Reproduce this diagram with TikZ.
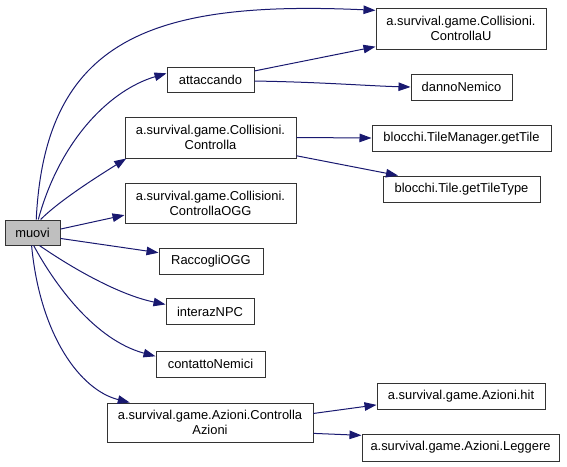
\documentclass[tikz,border=0pt]{standalone}
\usepackage{fontspec}
\setmainfont{Liberation Sans}
\usetikzlibrary{arrows.meta}
\definecolor{edgeblue}{HTML}{191970}
\definecolor{boxgray}{HTML}{BFBFBF}

\begin{document}
\begin{tikzpicture}[x=1pt,y=-1pt,font=\fontsize{12.9}{15}\selectfont,
  fn/.style={draw=black!80,line width=1pt,fill=white,inner sep=0pt,align=center,minimum height=26pt},
  fn2/.style={fn,minimum height=41pt},
  call/.style={draw=edgeblue,line width=1pt,-{Triangle[length=12pt,width=8.5pt]}}]
\useasboundingbox (0,0) rectangle (567,466);
% caller
\node[fn,fill=boxgray,minimum width=55pt,minimum height=25pt] (muovi) at (32.5,232.5) {muovi};
% first level
\node[fn,minimum width=87pt,minimum height=25pt] (att) at (210.5,79.5) {attaccando};
\node[fn2,minimum width=171pt] (ctrl) at (210.5,137.5) {a.survival.game.Collisioni.\\Controlla};
\node[fn2,minimum width=171pt,minimum height=40pt] (ctrlogg) at (210.5,203) {a.survival.game.Collisioni.\\ControllaOGG};
\node[fn,minimum width=104pt] (racc) at (211,261) {RaccogliOGG};
\node[fn,minimum width=88pt] (npc) at (210,311.5) {interazNPC};
\node[fn,minimum width=109pt] (cont) at (210.5,364) {contattoNemici};
\node[fn2,minimum width=206pt,minimum height=39pt] (azioni) at (210,422.5) {a.survival.game.Azioni.Controlla\\Azioni};
% second level
\node[fn2,minimum width=170pt] (ctrlu) at (461,28.5) {a.survival.game.Collisioni.\\ControllaU};
\node[fn,minimum width=101pt] (danno) at (461.5,87) {dannoNemico};
\node[fn,minimum width=179pt] (gettile) at (461.5,138) {blocchi.TileManager.getTile};
\node[fn,minimum width=157pt] (gettype) at (461.5,189) {blocchi.Tile.getTileType};
\node[fn,minimum width=168pt] (hit) at (461,396) {a.survival.game.Azioni.hit};
\node[fn,minimum width=197pt,minimum height=27pt] (legg) at (460.5,447.5) {a.survival.game.Azioni.Leggere};
% calls from muovi
\draw[call] (muovi.74) .. controls (45,40) and (150,0) .. (ctrlu.168.4);
\draw[call] (muovi.66) .. controls (60,140) and (110,90) .. (att.172);
\draw[call] (muovi.58) .. controls (60,200) and (100,175) .. (ctrl.194.5);
\draw[call] (muovi.7.3) -- (ctrlogg.188.6);
\draw[call] (muovi.348.7) -- (racc.171.2);
\draw[call] (muovi.298) .. controls (75,270) and (120,295) .. (npc.171.6);
\draw[call] (muovi.275) .. controls (55,285) and (95,340) .. (cont.172.7);
\draw[call] (muovi.266) .. controls (40,335) and (80,390) .. (azioni.166.8);
% calls from second level
\draw[call] (att.11) -- (ctrlu.192.9);
\draw[call] (att.358) .. controls (320,82) and (370,86) .. (danno.west);
\draw[call] (ctrl.east) -- (gettile.west);
\draw[call] (ctrl.348.4) -- (gettype.168.6);
\draw[call] (azioni.5.8) -- (hit.186.1);
\draw[call] (azioni.354.7) -- (legg.173.9);
\end{tikzpicture}
\end{document}
